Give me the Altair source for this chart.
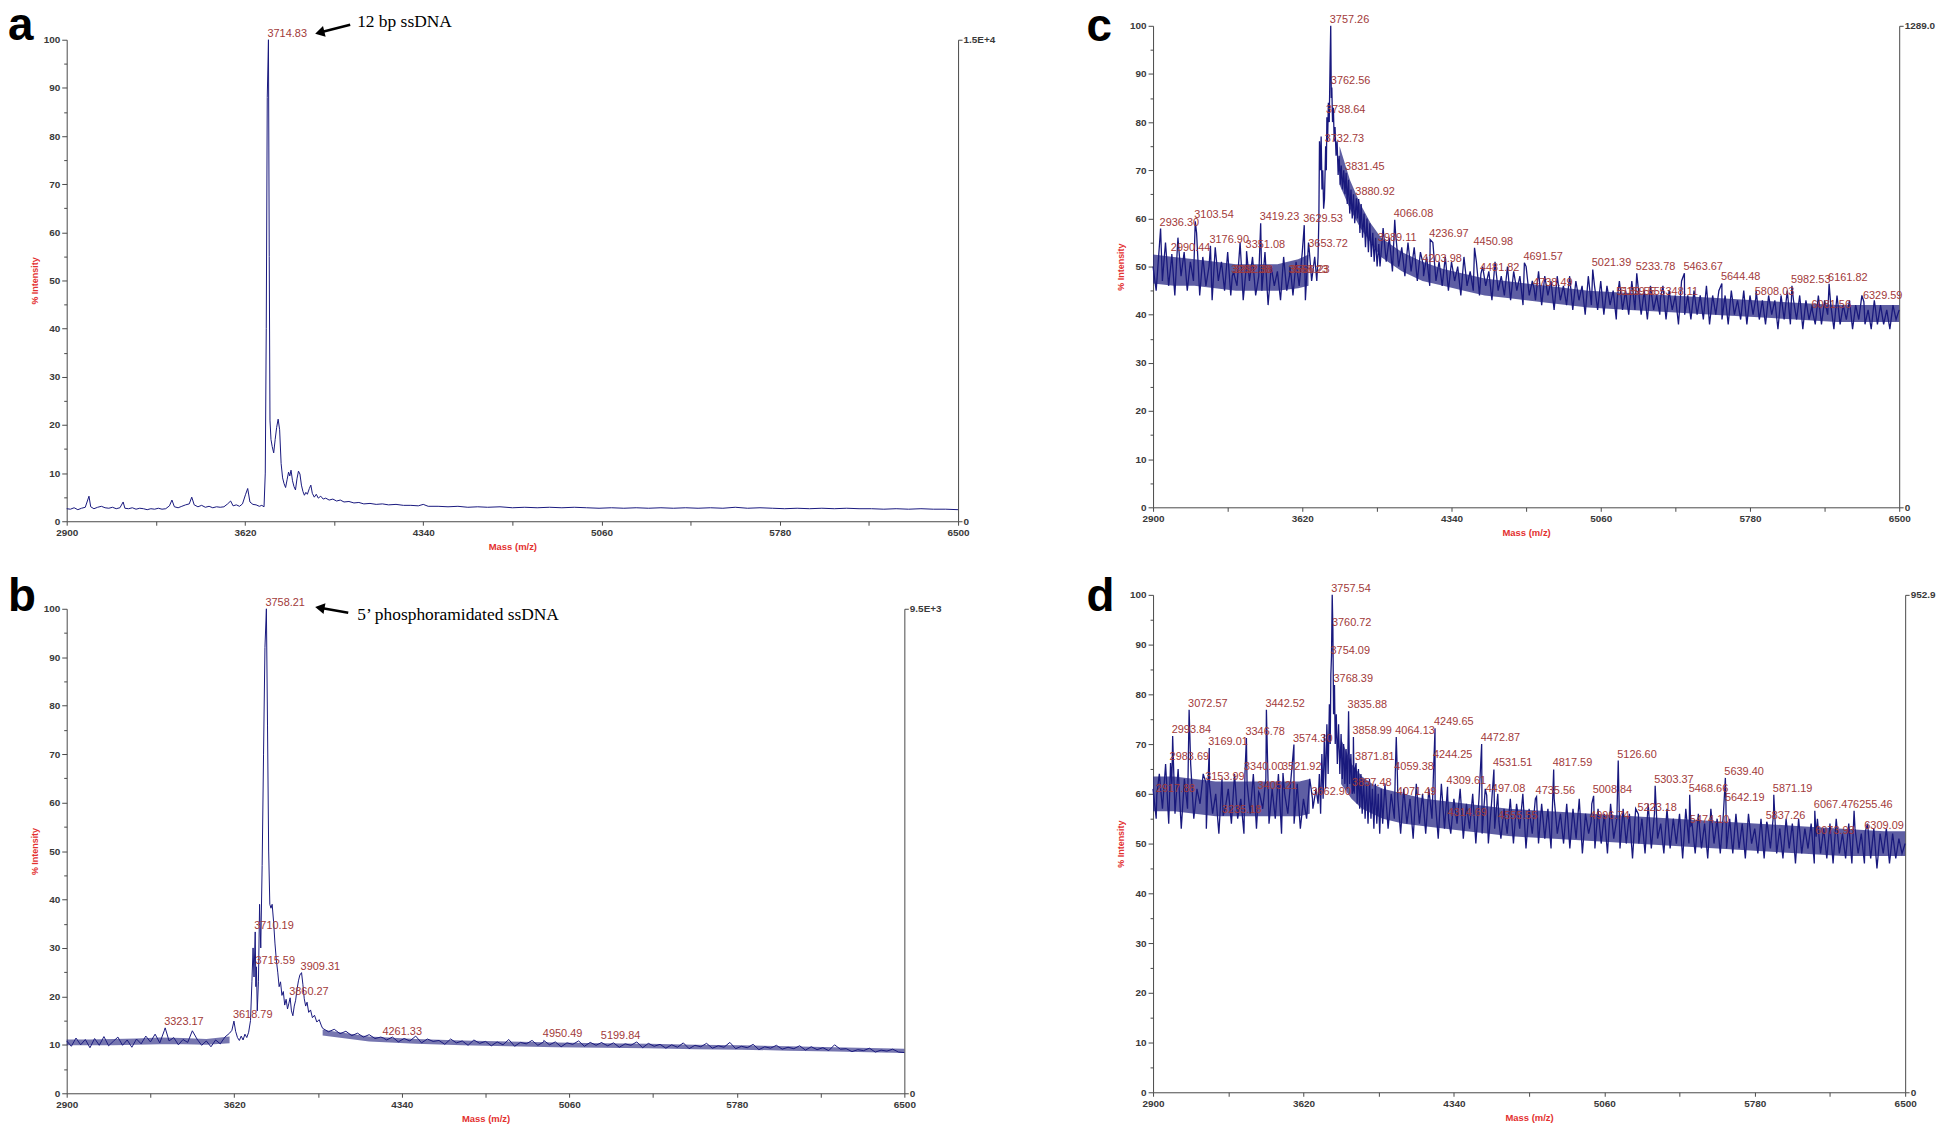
import altair as alt
import pandas as pd

# ---------------- shared axis ticks ----------------
X_TICKS = [2900, 3260, 3620, 3980, 4340, 4700, 5060, 5420, 5780, 6140, 6500]
Y_TICKS = [0, 5, 10, 15, 20, 25, 30, 35, 40, 45, 50, 55, 60, 65, 70, 75, 80, 85, 90, 95, 100]

# ---------------- panel a : 12 bp ssDNA ----------------
a_mass = [2900, 2915, 2930, 2945, 2960, 2975, 2990, 2997, 3010, 3025,
          3040, 3055, 3070, 3085, 3100, 3115, 3128, 3135, 3150, 3165,
          3180, 3195, 3210, 3225, 3240, 3255, 3270, 3285, 3300, 3315,
          3325, 3335, 3350, 3365, 3380, 3395, 3405, 3415, 3430, 3445,
          3460, 3475, 3490, 3505, 3520, 3535, 3550, 3562, 3572, 3585,
          3598, 3610, 3622, 3631, 3640, 3652, 3665, 3678, 3688, 3697,
          3702, 3706, 3710, 3714.83, 3718, 3721, 3725, 3730, 3736, 3742,
          3748, 3754, 3760, 3766, 3772, 3778, 3784, 3790, 3796, 3801,
          3806, 3812, 3818, 3824, 3830, 3836, 3842, 3848, 3854, 3860,
          3866, 3872, 3880, 3886, 3892, 3900, 3908, 3916, 3926, 3936,
          3946, 3960, 3975, 3990, 4005, 4020, 4040, 4060, 4080, 4100,
          4125, 4150, 4175, 4200, 4230, 4260, 4290, 4320, 4340, 4360,
          4400, 4440, 4480, 4520, 4560, 4600, 4650, 4700, 4750, 4800,
          4850, 4900, 4950, 5000, 5050, 5100, 5150, 5200, 5250, 5300,
          5350, 5400, 5450, 5500, 5550, 5600, 5650, 5700, 5750, 5800,
          5850, 5900, 5950, 6000, 6050, 6100, 6150, 6200, 6250, 6300,
          6350, 6400, 6450, 6500]
a_int = [2.6, 2.5, 2.8, 2.4, 2.7, 2.9, 5.2, 3.0, 2.6, 2.9,
         3.1, 2.8, 2.7, 2.9, 2.6, 2.8, 4.0, 2.7, 2.6, 2.8,
         2.5, 2.7, 2.6, 2.4, 2.6, 2.5, 2.7, 2.5, 2.6, 3.2,
         4.4, 3.0, 2.8, 3.1, 3.4, 3.6, 5.0, 3.4, 3.0, 3.3,
         2.9, 3.1, 2.8, 3.0, 2.9, 3.0, 3.6, 4.2, 3.2, 3.4,
         3.1, 3.6, 5.5, 6.8, 4.0, 3.5, 3.4, 3.1, 3.3, 3.0,
         10, 40, 88, 100, 55, 21, 17, 15.5, 14.2, 17,
         19.5, 21.2, 19, 12, 9, 7.8, 7, 8.6, 10.2, 9.4,
         10.6, 8.4, 7.2, 6.5, 8.8, 10.4, 9.8, 7.5, 6.2, 5.4,
         6.0, 5.6, 6.8, 7.5, 5.8, 5.0, 5.6, 4.8, 5.2, 4.6,
         4.8, 4.4, 4.6, 4.2, 4.4, 4.0, 4.1, 3.8, 3.9, 3.6,
         3.7, 3.5, 3.6, 3.4, 3.5, 3.3, 3.3, 3.2, 3.5, 3.1,
         3.1, 3.0, 3.1, 2.9, 3.0, 2.9, 3.0, 2.8, 2.9, 2.8,
         2.9, 2.8, 2.9, 2.8, 2.7, 2.8, 2.7, 2.8, 2.7, 2.8,
         2.7, 2.8, 2.7, 2.8, 2.7, 2.9, 2.7, 2.8, 2.7, 2.6,
         2.7, 2.6, 2.7, 2.6, 2.7, 2.6, 2.6, 2.5, 2.6, 2.5,
         2.6, 2.5, 2.5, 2.4]
a_lab_text = ["3714.83"]
a_lab_int = [100]

# ---------------- panel b : 5' phosphoramidated ssDNA ----------------
b_grid1_start, b_grid1_step = 2900, 20
b_grid1 = [10.8, 9.7, 11.4, 10.0, 11.1, 9.4, 11.3, 9.9, 11.7, 9.8,
           10.7, 11.6, 9.9, 11.0, 9.5, 11.2, 10.2, 11.8, 10.6, 12.2,
           10.4, 13.0, 10.8, 11.5, 10.0, 11.1, 10.5, 12.9, 11.2, 9.9,
           10.8, 9.6, 11.0, 10.2, 11.6, 12.4]
b_mass = [3610, 3618.79, 3626, 3634, 3642, 3650, 3658, 3666, 3674, 3682,
          3690, 3696, 3701, 3705, 3710.19, 3713, 3715.59, 3719, 3724, 3729,
          3734, 3740, 3746, 3752, 3758.21, 3763, 3768, 3773, 3778, 3783,
          3789, 3795, 3801, 3807, 3813, 3819, 3825, 3831, 3837, 3843,
          3849, 3855, 3860.27, 3866, 3872, 3878, 3884, 3890, 3896, 3902,
          3909.31, 3915, 3921, 3927, 3933, 3940, 3948, 3956, 3965, 3975,
          3985, 3995]
b_int = [13.0, 14.9, 12.8, 11.5, 10.9, 11.8, 11.0, 12.2, 11.5, 12.6,
         15, 23, 30, 24, 33.3, 22, 26.1, 17, 23, 39,
         30, 47, 70, 92, 100, 76, 50, 39, 38.2, 39.0,
         35.5, 31, 27.5, 25, 22, 23, 20.2, 21, 18.2, 19.4,
         17.4, 18.6, 19.7, 17.0, 16.0, 18.0, 19.2, 21.5, 23.2, 24.4,
         24.9, 22.5, 19.5, 18.0, 18.8, 16.7, 17.2, 15.6, 16.1, 14.7,
         15.2, 13.9]
b_grid2_start, b_grid2_step = 4000, 25
b_grid2 = [13.4, 12.7, 13.2, 12.3, 12.8, 11.9, 12.4, 11.6, 12.1, 11.3,
           11.6, 11.0, 11.6, 10.6, 11.3, 10.8, 11.8, 10.4, 11.2, 10.7,
           10.9, 10.1, 11.2, 10.4, 10.8, 9.9, 11.0, 10.3, 10.7, 9.8,
           10.6, 10.0, 11.1, 9.7, 10.5, 10.2, 10.9, 9.9, 10.6, 10.0,
           10.6, 9.6, 10.4, 10.1, 10.8, 9.7, 10.5, 9.9, 10.4, 9.8,
           10.4, 9.5, 10.2, 9.9, 10.6, 9.4, 10.3, 9.7, 10.1, 9.3,
           10.0, 9.5, 10.4, 9.2, 9.9, 9.6, 10.3, 9.3, 9.8, 9.5,
           10.5, 9.2, 9.7, 9.4, 10.1, 9.0, 9.6, 9.3, 9.9, 9.1,
           9.5, 9.2, 9.8, 8.9, 9.6, 9.0, 9.4, 8.8, 10.0, 9.1,
           9.2, 8.6, 9.0, 8.8, 9.3, 8.5, 8.9, 8.7, 9.1, 8.5,
           8.4]
b_lab_text = ["3323.17", "3618.79", "3710.19", "3715.59", "3758.21",
              "3860.27", "3909.31", "4261.33", "4950.49", "5199.84"]
b_lab_int = [13.5, 14.9, 33.3, 26.1, 100, 19.7, 24.9, 11.4, 10.9, 10.5]
b_core_seg = [1] * 8 + [2] * 14
b_core_mass = [2900, 3000, 3100, 3200, 3300, 3400, 3500, 3600,
               4000, 4200, 4400, 4600, 4800, 5000, 5200, 5400, 5600, 5800, 6000, 6200, 6400, 6500]
b_core_lo = [9.9, 9.9, 9.9, 10.0, 10.1, 10.1, 10.0, 10.3,
             11.9, 10.7, 10.2, 9.9, 9.7, 9.5, 9.4, 9.3, 9.1, 9.0, 8.8, 8.6, 8.4, 8.3]
b_core_hi = [11.1, 11.1, 11.2, 11.3, 11.5, 11.4, 11.2, 11.7,
             13.1, 11.7, 11.2, 10.9, 10.7, 10.5, 10.3, 10.2, 10.0, 9.9, 9.7, 9.5, 9.3, 9.2]

# ---------------- panel c ----------------
c_grid1_start, c_grid1_step = 2900, 15
c_grid1 = [50, 45, 54, 47, 55, 46, 52, 44, 56, 48,
           53, 45, 51, 47, 57, 44, 52, 46, 50, 43,
           54, 47, 51, 45, 53, 44, 49, 46, 55, 43,
           50, 47, 52, 44, 48, 45, 53, 42, 50, 46,
           49, 43, 52, 45, 50, 44, 51, 46, 53, 43,
           55, 47, 52]
c_mass = [3690, 3696, 3700, 3703, 3707, 3711, 3715, 3719, 3723, 3727,
          3732.73, 3736, 3738.64, 3742, 3746, 3750, 3754, 3757.26, 3760, 3762.56,
          3766, 3770, 3774, 3778, 3783, 3788, 3793, 3798, 3803, 3808,
          3814, 3820, 3826, 3831.45, 3837, 3843, 3849, 3855, 3861, 3867,
          3873, 3880.92, 3886, 3892, 3898, 3904, 3911, 3918, 3925, 3932,
          3939, 3946, 3953, 3960, 3967, 3974, 3981, 3989.11, 3995]
c_int = [47, 52, 60, 76, 70, 77, 66, 70, 62, 64,
         75, 70, 81, 76, 84, 80, 92, 100, 85, 87.2,
         80, 83, 76, 79, 73, 76, 69, 73, 67, 71,
         66, 70, 65, 69.5, 63, 68, 61, 66, 60, 65,
         59, 64.2, 60, 64, 57, 63, 56, 61, 54, 60,
         53, 59, 52, 57, 51, 56, 50, 54.7, 50]
c_grid2_start, c_grid2_step = 4010, 15
c_grid2 = [58, 51, 56, 49, 57, 50, 54, 48, 55, 49,
           54, 47, 53, 48, 52, 46, 55, 47, 51, 46,
           52, 45, 51, 47, 50, 44, 52, 46, 49, 45,
           51, 44, 50, 46, 49, 43, 51, 45, 48, 44,
           50, 43, 49, 45, 48, 42, 50, 44, 47, 43,
           49, 42, 48, 44, 47, 41, 48, 43, 46, 42,
           48, 41, 47, 43, 46, 40, 48, 42, 46, 41,
           47, 40, 46, 42, 45, 39, 47, 41, 45, 40,
           47, 41, 46, 40, 45, 39, 46, 41, 44, 40,
           46, 39, 45, 41, 44, 38, 47, 40, 44, 39,
           45, 40, 44, 39, 46, 38, 44, 40, 45, 39,
           44, 38, 45, 40, 43, 39, 45, 38, 44, 40,
           45, 39, 43, 38, 44, 40, 43, 37, 44, 39,
           45, 38, 43, 39, 44, 37, 43, 39, 42, 38,
           44, 38, 43, 40, 42, 37, 44, 38, 42, 39,
           43, 37, 42, 39, 44, 38, 41, 37, 43, 38,
           42, 38, 41, 37, 42, 39, 41]
c_lab_text = ["3757.26", "3762.56", "3738.64", "3732.73", "3831.45", "3880.92", "4066.08",
              "2936.30", "3103.54", "3419.23", "3629.53", "3176.90", "3351.08", "2990.44",
              "3653.72", "3989.11", "4236.97", "4450.98", "4203.98", "4481.82", "4691.57",
              "5021.39", "5233.78", "5463.67", "5644.48", "5982.53", "6161.82", "3282.38",
              "3292.38", "3558.23", "3566.23", "4738.49", "5139.55", "5159.55", "5348.11",
              "5808.03", "6081.56", "6329.59"]
c_lab_int = [100, 87.2, 81.3, 75.2, 69.5, 64.2, 59.7,
             57.9, 59.4, 59.0, 58.6, 54.3, 53.2, 52.6,
             53.4, 54.7, 55.6, 53.9, 50.3, 48.5, 50.8,
             49.4, 48.6, 48.6, 46.5, 46.0, 46.4, 48.1,
             48.1, 48.1, 48.1, 45.4, 43.4, 43.4, 43.4,
             43.4, 40.8, 42.7]
# dense dark core of the noise band (two stretches)
c_core_seg = [1] * 9 + [2] * 21
c_core_mass = [2900, 3000, 3100, 3200, 3300, 3400, 3500, 3600, 3650,
               3800, 3850, 3900, 3950, 4000, 4100, 4200, 4300, 4400, 4500, 4600,
               4800, 5000, 5200, 5400, 5600, 5800, 6000, 6200, 6400, 6500]
c_core_lo = [46.5, 46, 46, 45.5, 45, 45, 45, 45.5, 46,
             67, 62, 58, 55, 52, 49, 47, 46, 45, 44, 43.5,
             42.5, 41.5, 41, 40.5, 40, 39.5, 39, 38.5, 38.5, 38.5]
c_core_hi = [52.5, 52, 51.5, 51, 50.5, 50.5, 50.5, 51.5, 52.5,
             75, 68, 63, 59, 56, 53, 51, 49.5, 48.5, 47.5, 47,
             46, 45, 44.5, 44, 43.5, 43, 42.5, 42, 42, 42]

# ---------------- panel d ----------------
d_grid1_start, d_grid1_step = 2900, 15
d_grid1 = [61, 55, 64, 57, 66, 54, 62, 56, 65, 53,
           63, 57, 66, 55, 61, 58, 64, 53, 62, 56,
           60, 52, 63, 57, 61, 54, 64, 55, 59, 52,
           62, 56, 64, 53, 60, 57, 63, 54, 61, 55,
           64, 52, 60, 56, 63, 54, 62, 53, 59, 55,
           63, 57, 61]
d_mass = [3690, 3696, 3702, 3708, 3714, 3720, 3726, 3732, 3738, 3744,
          3748, 3751, 3754.09, 3757.54, 3760.72, 3764, 3768.39, 3772, 3777, 3782,
          3788, 3794, 3800, 3806, 3812, 3818, 3824, 3830, 3835.88, 3841,
          3847, 3853, 3857.48, 3858.99, 3863, 3867, 3871.81, 3877, 3883, 3889,
          3895, 3901, 3908, 3915, 3922, 3929, 3936, 3943, 3950, 3957,
          3964, 3971, 3978, 3985, 3992, 3999]
d_int = [58, 64, 56, 68, 59, 72, 61, 74, 64, 78,
         70, 84, 87.6, 100, 93.2, 76, 81.9, 70, 76, 66,
         74, 64, 72, 63, 70, 62, 69, 61, 76.6, 62,
         68, 60, 60.9, 71.4, 60, 65, 66.2, 58, 65, 57,
         64, 56, 63, 55, 62, 54, 63, 55, 61, 53,
         62, 54, 60, 52, 61, 54]
d_grid2_start, d_grid2_step = 4010, 15
d_grid2 = [62, 53, 60, 55, 63, 52, 61, 54, 59, 51,
           62, 54, 60, 52, 61, 55, 59, 51, 62, 53,
           60, 52, 59, 54, 61, 51, 58, 53, 60, 50,
           59, 52, 61, 50, 58, 53, 60, 51, 57, 52,
           59, 50, 58, 53, 60, 49, 57, 52, 59, 50,
           58, 51, 57, 49, 59, 52, 56, 50, 58, 49,
           57, 51, 59, 48, 56, 52, 58, 49, 57, 50,
           56, 48, 58, 51, 55, 49, 57, 50, 56, 47,
           57, 50, 55, 48, 58, 49, 56, 51, 54, 48,
           57, 49, 55, 50, 56, 47, 57, 50, 54, 48,
           56, 49, 54, 47, 57, 50, 55, 48, 56, 49,
           55, 48, 56, 49, 54, 47, 56, 50, 53, 48,
           55, 47, 54, 49, 56, 48, 53, 47, 55, 49,
           54, 46, 55, 48, 53, 49, 54, 46, 55, 48,
           53, 47, 54, 46, 55, 48, 52, 47, 54, 46,
           53, 48, 52, 46, 54, 47, 53, 45, 52, 48,
           53, 46, 52, 47, 51, 48, 50]
d_lab_text = ["3757.54", "3760.72", "3754.09", "3768.39", "3835.88", "3858.99", "3871.81",
              "3857.48", "3072.57", "3442.52", "2993.84", "3346.78", "3169.01", "3574.30",
              "2983.69", "3340.00", "3521.92", "3153.99", "2917.88", "3405.21", "3662.90",
              "3235.18", "4064.13", "4249.65", "4472.87", "4244.25", "4059.38", "4531.51",
              "4817.59", "5126.60", "4309.61", "4071.49", "4497.08", "4735.56", "5008.84",
              "5303.37", "5639.40", "5468.66", "5642.19", "5871.19", "4314.69", "4555.55",
              "4996.74", "5223.18", "5474.10", "5837.26", "6067.47", "6073.93", "6255.46",
              "6309.09"]
d_lab_int = [100, 93.2, 87.6, 81.9, 76.6, 71.4, 66.2,
             60.9, 76.9, 76.9, 71.6, 71.2, 69.2, 69.9,
             66.2, 64.2, 64.2, 62.1, 59.8, 60.4, 59.1,
             55.6, 71.4, 73.2, 70.0, 66.6, 64.2, 64.9,
             64.9, 66.7, 61.4, 59.1, 59.7, 59.4, 59.6,
             61.6, 63.2, 59.8, 58.0, 59.8, 54.9, 54.4,
             54.4, 55.9, 53.6, 54.4, 56.6, 51.4, 56.6,
             52.4]
d_core_seg = [1] * 9 + [2] * 21
d_core_mass = [2900, 3000, 3100, 3200, 3300, 3400, 3500, 3600, 3650,
               3800, 3850, 3900, 3950, 4000, 4100, 4200, 4300, 4400, 4500, 4600,
               4800, 5000, 5200, 5400, 5600, 5800, 6000, 6200, 6400, 6500]
d_core_lo = [56.5, 56.5, 56, 55.5, 55.5, 55.5, 55.5, 55.5, 56,
             62, 59, 57, 56, 55, 54, 53.5, 53, 52.5, 52, 51.5,
             51, 50.5, 50, 49.5, 49, 48.5, 48, 47.5, 47.5, 47.5]
d_core_hi = [63.5, 63.5, 63, 62.5, 62.5, 62.5, 62.5, 62.5, 63,
             71, 66, 63.5, 62, 61, 60, 59, 58.5, 58, 57.5, 57,
             56.5, 56, 55.5, 55, 54.5, 54, 53.5, 53, 52.5, 52.5]

# ---------------- styling ----------------
LINE = "#18187e"
CORE = "#1a1a7c"
LAB = "#a23a3a"
AX = "#3a3a3a"
RED = "#e3302f"
SANS = "Liberation Sans"
NARROW = "Liberation Sans Narrow, Liberation Sans"
SERIF = "Liberation Serif"


def from_grid(start, step, vals):
    return [start + step * i for i in range(len(vals))], list(vals)


def spectrum(*parts):
    ms, vs = [], []
    for m, v in parts:
        ms += list(m)
        vs += list(v)
    df = pd.DataFrame({"mass": ms, "int": vs})
    return df.drop_duplicates("mass").sort_values("mass").reset_index(drop=True)


def labels(texts, ints):
    return pd.DataFrame({"mass": [float(t) for t in texts], "int": ints, "text": texts})


def panel(line_df, lab_df, width, height, top, right_text, letter, ldx, ldy,
          font, tick_fs, lab_fs, stroke, note=None, core=None, core_opacity=0.7):
    xs = alt.Scale(domain=[2900, 6500], nice=False, zero=False)
    ys = alt.Scale(domain=[0, 100], range=[height, top], nice=False, zero=False)
    common = dict(grid=False, domainColor="#4a4a4a", tickColor="#4a4a4a",
                  labelFont=font, labelFontSize=tick_fs, labelFontWeight="bold",
                  labelColor=AX, labelOverlap=False)
    xaxis = alt.Axis(values=X_TICKS, format="d",
                     labelExpr="(datum.value - 2900) % 720 == 0 ? datum.label : ''",
                     tickSize=4, labelPadding=2, labelFlush=False,
                     titleFont=font, titleFontSize=tick_fs - 0.5, titleFontWeight="bold",
                     titleColor=RED, titlePadding=4, **common)
    yaxis = alt.Axis(values=Y_TICKS,
                     labelExpr="datum.value % 10 == 0 ? datum.label : ''",
                     tickSize={"condition": {"test": "datum.value % 10 == 0", "value": 5}, "value": 3},
                     labelPadding=2, titleFont=font, titleFontSize=tick_fs - 1,
                     titleFontWeight="bold", titleColor=RED, titlePadding=4, **common)
    raxis = alt.Axis(orient="right", values=[0, 100],
                     labelExpr=f"datum.value == 100 ? '{right_text}' : '0'",
                     tickSize=4, labelPadding=1, **common)

    spec = alt.Chart(line_df).mark_line(color=LINE, strokeWidth=stroke).encode(
        x=alt.X("mass:Q", scale=xs, axis=xaxis, title="Mass (m/z)"),
        y=alt.Y("int:Q", scale=ys, axis=yaxis, title="% Intensity"),
    )
    layers = [spec]
    if core is not None:
        band = alt.Chart(core).mark_area(color=CORE, opacity=core_opacity).encode(
            x=alt.X("mass:Q", scale=xs),
            y=alt.Y("lo:Q", scale=ys, axis=None),
            y2="hi:Q",
            detail="seg:N",
        )
        layers.append(band)
    frame_df = pd.DataFrame({"mass": [6500], "int": [0]})
    right = alt.Chart(frame_df).mark_point(opacity=0).encode(
        x=alt.X("mass:Q", scale=xs),
        y=alt.Y("int:Q", scale=ys, axis=raxis, title=None),
    )
    labs = alt.Chart(lab_df).mark_text(
        align="left", baseline="bottom", dx=-1, dy=-1, font=font,
        fontSize=lab_fs, color=LAB,
    ).encode(
        x=alt.X("mass:Q", scale=xs),
        y=alt.Y("int:Q", scale=ys, axis=None),
        text="text:N",
    )
    layers += [right, labs]
    if note is not None:
        txt, (tm, ti), (fm, fi), (hm, hi), ang = note
        note_df = pd.DataFrame({"mass": [tm], "int": [ti], "text": [txt]})
        layers.append(alt.Chart(note_df).mark_text(
            align="left", baseline="middle", font=SERIF, fontSize=17.5, color="black"
        ).encode(x=alt.X("mass:Q", scale=xs), y=alt.Y("int:Q", scale=ys, axis=None), text="text:N"))
        arr_df = pd.DataFrame({"mass": [fm], "int": [fi], "mass2": [hm], "int2": [hi]})
        layers.append(alt.Chart(arr_df).mark_rule(color="black", strokeWidth=2.5).encode(
            x=alt.X("mass:Q", scale=xs), y=alt.Y("int:Q", scale=ys, axis=None),
            x2="mass2:Q", y2="int2:Q"))
        head_df = pd.DataFrame({"mass": [hm], "int": [hi]})
        layers.append(alt.Chart(head_df).mark_point(
            shape="triangle-left", filled=True, color="black", size=120, angle=ang, opacity=1
        ).encode(x=alt.X("mass:Q", scale=xs), y=alt.Y("int:Q", scale=ys, axis=None)))

    title = alt.TitleParams(text=letter, anchor="start", frame="group", orient="top",
                            font=SANS, fontSize=46, fontWeight="bold", color="black",
                            baseline="top", offset=0, dx=ldx, dy=ldy)
    return alt.layer(*layers).resolve_axis(y="independent").properties(
        width=width, height=height, title=title)


a_df = spectrum((a_mass, a_int), ([float(t) for t in a_lab_text], a_lab_int))
b_df = spectrum(from_grid(b_grid1_start, b_grid1_step, b_grid1), (b_mass, b_int),
                from_grid(b_grid2_start, b_grid2_step, b_grid2),
                ([float(t) for t in b_lab_text], b_lab_int))
c_df = spectrum(from_grid(c_grid1_start, c_grid1_step, c_grid1), (c_mass, c_int),
                from_grid(c_grid2_start, c_grid2_step, c_grid2),
                ([float(t) for t in c_lab_text], c_lab_int))
d_df = spectrum(from_grid(d_grid1_start, d_grid1_step, d_grid1), (d_mass, d_int),
                from_grid(d_grid2_start, d_grid2_step, d_grid2),
                ([float(t) for t in d_lab_text], d_lab_int))
b_core = pd.DataFrame({"mass": b_core_mass, "lo": b_core_lo, "hi": b_core_hi, "seg": b_core_seg})
c_core = pd.DataFrame({"mass": c_core_mass, "lo": c_core_lo, "hi": c_core_hi, "seg": c_core_seg})
d_core = pd.DataFrame({"mass": d_core_mass, "lo": d_core_lo, "hi": d_core_hi, "seg": d_core_seg})

pa = panel(a_df, labels(a_lab_text, a_lab_int), 896, 498, 14, "1.5E+4", "a", -59, 37,
           SANS, 10, 11, 1.0,
           note=("12 bp ssDNA", (4073, 103.6), (4045, 103.1), (3922, 101.5), 346))
pb = panel(b_df, labels(b_lab_text, b_lab_int), 842, 501, 14, "9.5E+3", "b", -59, 26,
           SANS, 10, 11, 1.0,
           note=("5\u2019 phosphoramidated ssDNA", (4149, 98.8), (4110, 99.2), (3988, 100.2), 10),
           core=b_core, core_opacity=0.6)
pc = panel(c_df, labels(c_lab_text, c_lab_int), 750, 484, 0, "1289.0", "c", -67, 37,
           NARROW, 10, 11, 1.3, core=c_core)
pdd = panel(d_df, labels(d_lab_text, d_lab_int), 756, 500, 0, "952.9", "d", -67, 38,
            NARROW, 10, 11, 1.3, core=d_core)

chart = alt.concat(pa, pc, pb, pdd, columns=2, bounds="flush",
                   spacing={"row": 74, "column": 196}).properties(
    padding={"left": 0, "top": -8, "right": 0, "bottom": 0}
).configure_view(strokeWidth=0)

chart.save("out.html", embed_options={"renderer": "svg", "actions": False})
